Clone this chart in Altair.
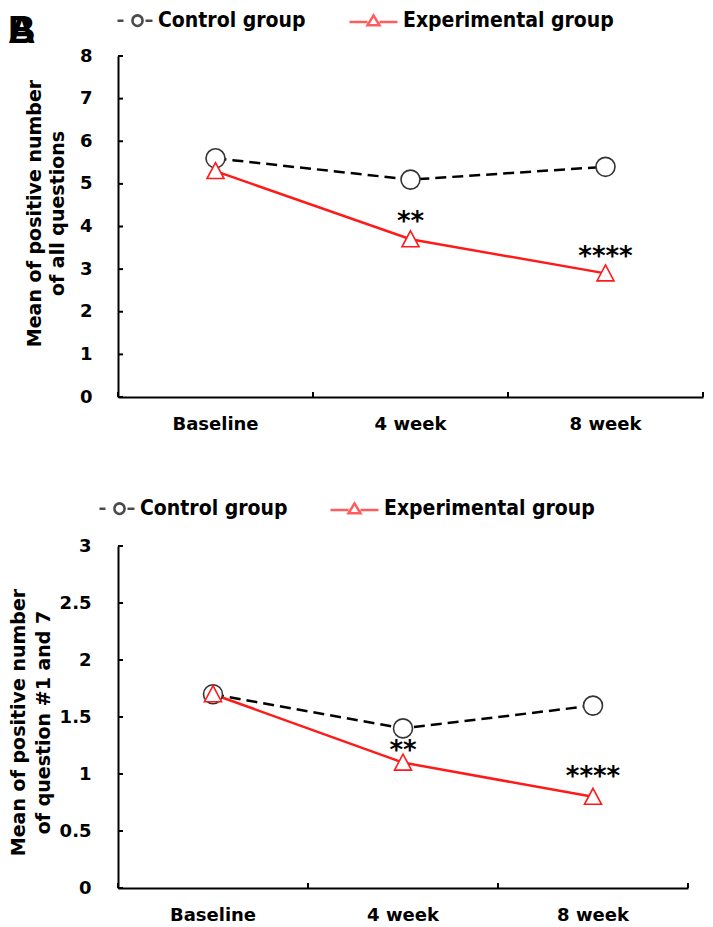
import altair as alt
import pandas as pd

# ---------------- data ----------------
CATEGORIES = ["Baseline", "4 week", "8 week"]
GROUPS = ["Control group", "Experimental group"]

TOP_CONTROL = [5.6, 5.1, 5.4]
TOP_EXPERIMENTAL = [5.3, 3.7, 2.9]
TOP_SIG = ["", "**", "****"]
TOP_Y_TICKS = [0, 1, 2, 3, 4, 5, 6, 7, 8]
TOP_Y_TITLE = ["Mean of positive number", "of all questions"]

BOTTOM_CONTROL = [1.7, 1.4, 1.6]
BOTTOM_EXPERIMENTAL = [1.7, 1.1, 0.8]
BOTTOM_SIG = ["", "**", "****"]
BOTTOM_Y_TICKS = [0, 0.5, 1, 1.5, 2, 2.5, 3]
BOTTOM_Y_TITLE = ["Mean of positive number", "of question #1 and 7"]

PANEL_LABELS = ["A", "B"]

# ---------------- style ----------------
FONT = "DejaVu Sans"
LEGEND_FONT = "DejaVu Sans Condensed, DejaVu Sans"
RED = "#ff1a1a"

# legend glyphs "- o -" and "-△-" as custom symbol paths (1 unit = 9 px)
CTRL_PATH = ("M-2.56,0H-1.89 "
             "M0.222,0A0.556,0.556 0 1 1 -0.889,0A0.556,0.556 0 1 1 0.222,0Z "
             "M0.556,0H1.333")
EXP_PATH = ("M-4,0.133H-2 M-0.667,0.133H1.333 "
            "M-1.333,-0.6L-0.667,0.507L-2,0.507Z")
# plotted triangle (a little taller than equilateral, like the reference)
TRI_PATH = "M0,-1L1,0.88L-1,0.88Z"


def panel(control, exp, sig, yticks, ymax, ytitle, w, h,
          title_x, title_y, title_lh, label_pad,
          legend_x, legend_y, col_pad, sig_dy, with_tags):
    df = pd.DataFrame({
        "week": CATEGORIES * 2,
        "group": [GROUPS[0]] * len(CATEGORIES) + [GROUPS[1]] * len(CATEGORIES),
        "value": control + exp,
        "sig": [""] * len(CATEGORIES) + sig,
    })
    ticks_df = pd.DataFrame({"t": yticks})
    cats_df = pd.DataFrame({"week": CATEGORIES})

    xscale = alt.Scale(type="band", domain=CATEGORIES, paddingInner=0, paddingOuter=0)
    yscale = alt.Scale(domain=[0, ymax], nice=False, zero=True)

    xaxis = alt.Axis(title=None, labelAngle=0, labelFont=FONT, labelFontSize=18,
                     labelFontWeight="bold", labelColor="black", labelPadding=18,
                     ticks=False, tickSize=0, domainColor="black", domainWidth=2,
                     grid=False)
    yaxis = alt.Axis(values=yticks, format="~g", title=ytitle, titleFont=FONT,
                     titleFontSize=19, titleFontWeight="bold", titleColor="black",
                     titleAngle=270, titleBaseline="top", titleAlign="center",
                     titleX=title_x, titleY=title_y, titleLineHeight=title_lh,
                     labelFont=FONT, labelFontSize=18, labelFontWeight="bold",
                     labelColor="black", labelPadding=label_pad,
                     ticks=False, tickSize=0, domainColor="black", domainWidth=2,
                     grid=False)

    x = alt.X("week:N", scale=xscale, axis=xaxis, bandPosition=0.5)
    y = alt.Y("value:Q", scale=yscale, axis=yaxis)

    base = alt.Chart(df)

    ctrl_line = base.mark_line(color="black", strokeDash=[11, 6], strokeWidth=2.5).transform_filter(
        alt.datum.group == GROUPS[0]).encode(x=x, y=y)
    exp_line = base.mark_line(color=RED, strokeWidth=2.5).transform_filter(
        alt.datum.group == GROUPS[1]).encode(x=x, y=y)
    ctrl_pts = base.mark_point(shape="circle", size=361, filled=True, fill="white",
                               stroke="#333333", strokeWidth=1.6, opacity=1).transform_filter(
        alt.datum.group == GROUPS[0]).encode(x=x, y=y)
    exp_pts = base.mark_point(shape=TRI_PATH, size=289, filled=True, fill="white",
                              stroke=RED, strokeWidth=1.6, opacity=1).transform_filter(
        alt.datum.group == GROUPS[1]).encode(x=x, y=y)

    sig_layers = []
    for cat, dy in sig_dy.items():
        sig_layers.append(
            base.mark_text(font=FONT, fontSize=26, fontWeight="bold", color="black",
                           baseline="alphabetic", align="center", dy=dy)
            .transform_filter((alt.datum.group == GROUPS[1]) & (alt.datum.week == cat))
            .encode(x=x, y=y, text="sig:N")
        )

    # inward ticks
    ytick_rules = alt.Chart(ticks_df).mark_rule(color="black", strokeWidth=2).encode(
        y=alt.Y("t:Q", scale=yscale, axis=yaxis), x=alt.value(0), x2=alt.value(5))
    xtick_rules = alt.Chart(cats_df).mark_rule(color="black", strokeWidth=2).encode(
        x=alt.X("week:N", scale=xscale, axis=xaxis, bandPosition=0),
        y=alt.value(h), y2=alt.value(h - 5))
    xtick_end = alt.Chart(cats_df).mark_rule(color="black", strokeWidth=2).transform_filter(
        alt.datum.week == CATEGORIES[-1]).encode(
        x=alt.X("week:N", scale=xscale, axis=xaxis, bandPosition=1),
        y=alt.value(h), y2=alt.value(h - 5))

    leg = alt.Legend(orient="none", legendX=legend_x, legendY=legend_y,
                     direction="horizontal", title=None, padding=0,
                     labelFont=LEGEND_FONT, labelFontSize=21, labelFontWeight="bold",
                     labelColor="black", labelLimit=400, labelOffset=7,
                     symbolSize=324, symbolStrokeWidth=2.5, symbolOffset=0,
                     columnPadding=col_pad)
    legend_layer = base.mark_point(filled=False, strokeWidth=2.5).transform_filter("false").encode(
        color=alt.Color("group:N", scale=alt.Scale(domain=GROUPS, range=["black", RED]), legend=leg),
        shape=alt.Shape("group:N", scale=alt.Scale(domain=GROUPS, range=[CTRL_PATH, EXP_PATH]), legend=leg),
    )

    layers = [ytick_rules, xtick_rules, xtick_end, ctrl_line, exp_line,
              ctrl_pts, exp_pts] + sig_layers + [legend_layer]

    if with_tags:
        tags = alt.Chart(pd.DataFrame({"tag": PANEL_LABELS})).mark_text(
            font="Liberation Sans", fontSize=38, fontWeight="bold", color="black",
            align="left", baseline="top").encode(
            text="tag:N", x=alt.value(-110), y=alt.value(-43))
        layers.append(tags)

    return alt.layer(*layers).properties(width=w, height=h)


top = panel(TOP_CONTROL, TOP_EXPERIMENTAL, TOP_SIG, TOP_Y_TICKS, 8, TOP_Y_TITLE,
            585, 341, title_x=-93, title_y=157, title_lh=23, label_pad=26,
            legend_x=12, legend_y=-46, col_pad=38,
            sig_dy={"4 week": -9, "8 week": -8}, with_tags=True)

bottom = panel(BOTTOM_CONTROL, BOTTOM_EXPERIMENTAL, BOTTOM_SIG, BOTTOM_Y_TICKS, 3, BOTTOM_Y_TITLE,
               570, 342, title_x=-109, title_y=176, title_lh=25, label_pad=27,
               legend_x=-6, legend_y=-48, col_pad=37,
               sig_dy={"4 week": -4, "8 week": -12}, with_tags=False)

chart = alt.vconcat(top, bottom, spacing=65).resolve_scale(
    x="independent", y="independent", color="independent", shape="independent"
).properties(padding={"top": 2, "left": 0, "right": 0, "bottom": 0}).configure_view(stroke=None)

chart.save("out.html", embed_options={"renderer": "svg", "actions": False})
